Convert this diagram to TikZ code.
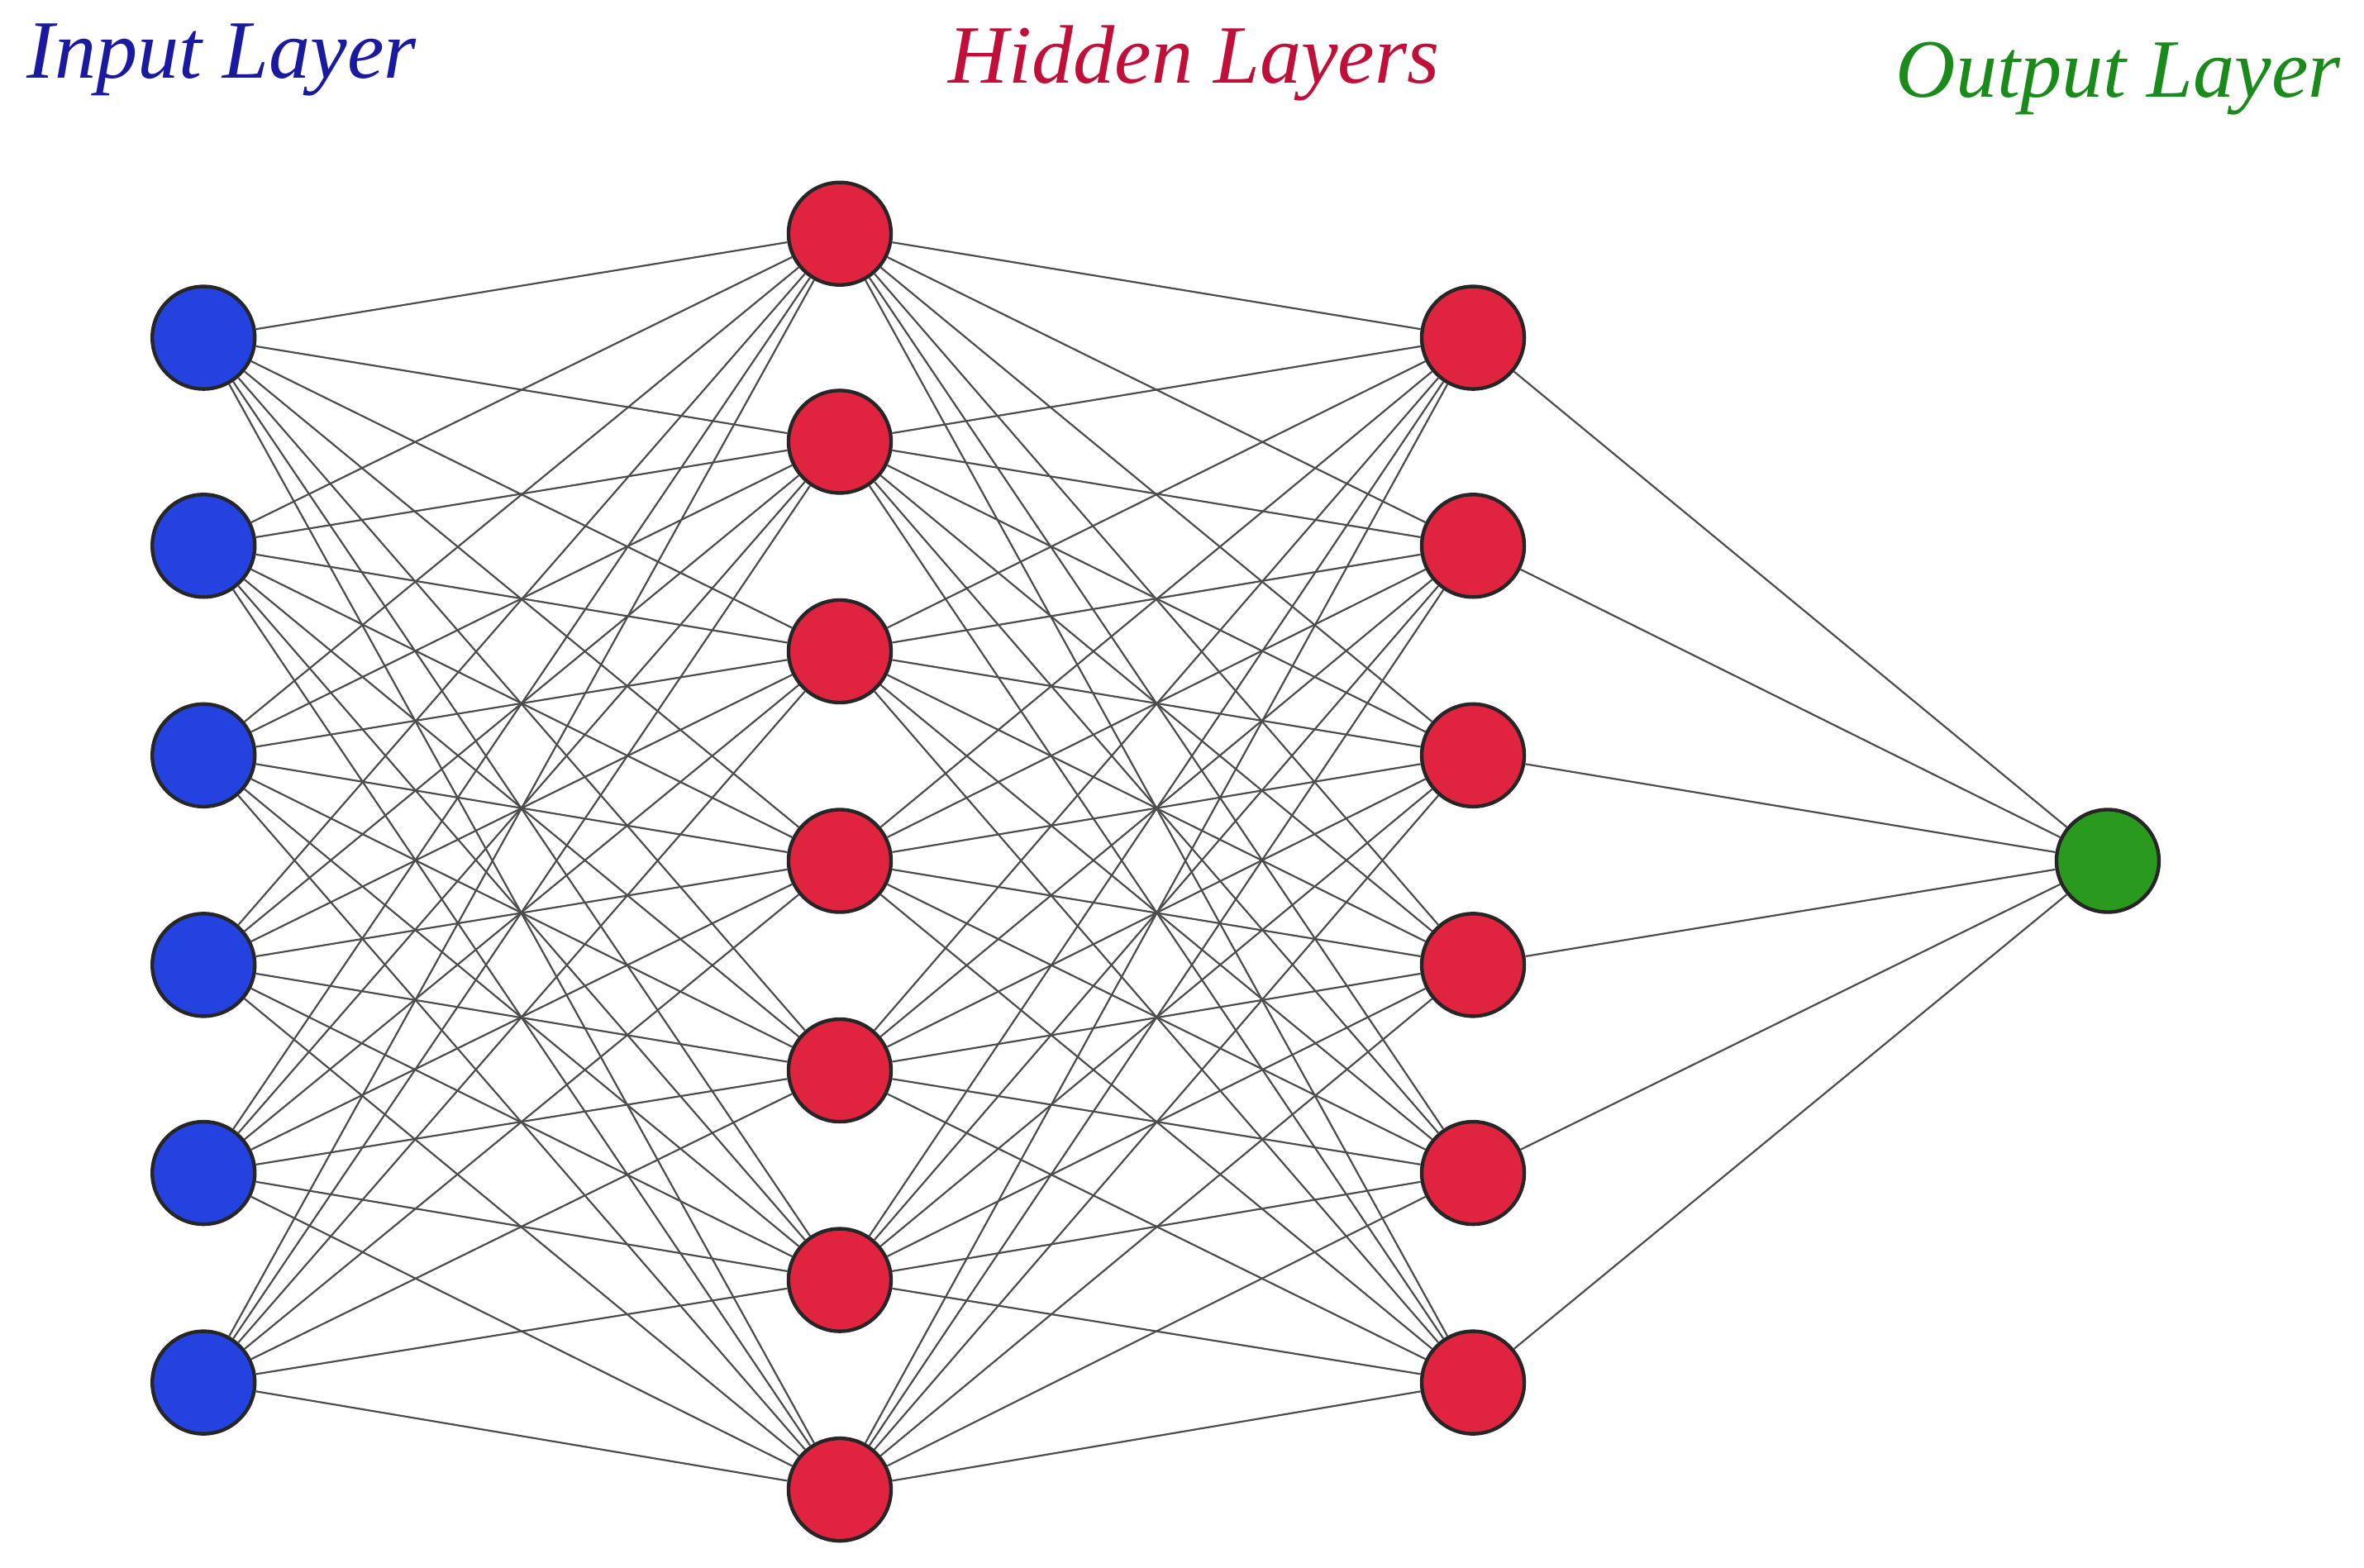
\documentclass[tikz,border=0pt]{standalone}
\usepackage{fontspec}
\setmainfont{Liberation Serif}
\begin{document}
\begin{tikzpicture}[x=0.5pt,y=-0.5pt,
  neuron/.style={circle,draw=black!85,line width=1.2pt,minimum size=34pt,inner sep=0pt},
  conn/.style={draw=black!70,line width=0.6pt},
  lbl/.style={font=\fontsize{27.5}{32}\selectfont\itshape}]
\useasboundingbox (0,0) rectangle (1568,1040);
\definecolor{nb}{HTML}{2342E0}\definecolor{nr}{HTML}{E0243F}\definecolor{ng}{HTML}{2A9A1E}
\node[lbl,text={rgb,255:red,26;green,26;blue,160}] (tin) at (147,40) {Input Layer};
\node[lbl,text={rgb,255:red,192;green,16;blue,58}] (thid) at (792,42) {Hidden Layers};
\node[lbl,text={rgb,255:red,26;green,138;blue,26}] (tout) at (1405,52) {Output Layer};
\foreach \i/\y in {1/224,2/362,3/501,4/640,5/778,6/917}{
  \node[neuron,fill=nb] (a\i) at (135,\y) {};
  \node[neuron,fill=nr] (c\i) at (977,\y) {};}
\foreach \i/\y in {1/155,2/293,3/432,4/571,5/710,6/849,7/988}
  \node[neuron,fill=nr] (b\i) at (557,\y) {};
\node[neuron,fill=ng] (o) at (1398,571) {};
\foreach \i in {1,...,6}{\foreach \j in {1,...,7}{
  \draw[conn] (a\i) -- (b\j); \draw[conn] (b\j) -- (c\i);}
  \draw[conn] (c\i) -- (o);}
\end{tikzpicture}
\end{document}
